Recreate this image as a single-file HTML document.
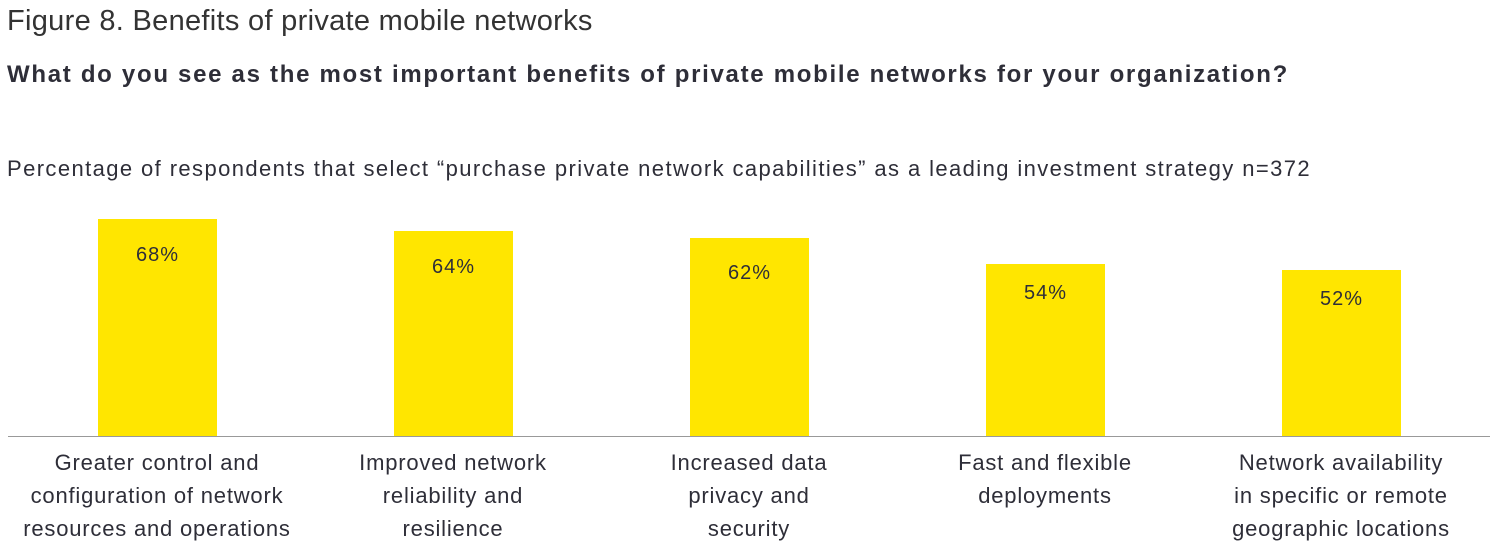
<!DOCTYPE html>
<html><head><meta charset="utf-8"><style>
body{margin:0;width:1495px;height:558px;background:#fff;position:relative;font-family:"Liberation Sans",sans-serif;color:#2e2e38;overflow:hidden}
.t{position:absolute;white-space:nowrap}
.bar{position:absolute;background:#FFE600;width:119px}
.v{position:absolute;width:119px;text-align:center;font-size:20px;letter-spacing:1px}
.l{position:absolute;width:296px;text-align:center;font-size:22px;line-height:33px;letter-spacing:0.8px;white-space:nowrap}
</style></head><body>
<div class="t" style="left:7px;top:5px;font-size:29px;letter-spacing:0.3px;font-weight:300;color:#333">Figure 8. Benefits of private mobile networks</div>
<div class="t" style="left:7px;top:61px;font-size:24px;letter-spacing:1.7px;font-weight:bold;color:#2e2e38">What do you see as the most important benefits of private mobile networks for your organization?</div>
<div class="t" style="left:7px;top:156px;font-size:22px;letter-spacing:1.4px">Percentage of respondents that select “purchase private network capabilities” as a leading investment strategy n=372</div>
<div style="position:absolute;left:8px;top:436px;width:1482px;height:1px;background:#999"></div>
<div class="bar" style="left:98px;top:219px;height:217px"></div><div class="v" style="left:98px;top:244px">68%</div>
<div class="bar" style="left:394px;top:231px;height:205px"></div><div class="v" style="left:394px;top:256px">64%</div>
<div class="bar" style="left:690px;top:238px;height:198px"></div><div class="v" style="left:690px;top:262px">62%</div>
<div class="bar" style="left:986px;top:264px;height:172px"></div><div class="v" style="left:986px;top:282px">54%</div>
<div class="bar" style="left:1282px;top:270px;height:166px"></div><div class="v" style="left:1282px;top:288px">52%</div>
<div class="l" style="left:9px;top:446px">Greater control and<br>configuration of network<br>resources and operations</div>
<div class="l" style="left:305px;top:446px">Improved network<br>reliability and<br>resilience</div>
<div class="l" style="left:601px;top:446px">Increased data<br>privacy and<br>security</div>
<div class="l" style="left:897px;top:446px">Fast and flexible<br>deployments</div>
<div class="l" style="left:1193px;top:446px">Network availability<br>in specific or remote<br>geographic locations</div>
</body></html>
